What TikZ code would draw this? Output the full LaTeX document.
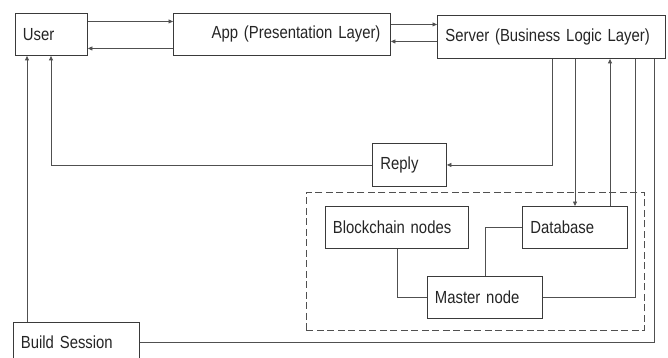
\documentclass[tikz,border=0pt]{standalone}
\usepackage{fontspec}
\setmainfont{Liberation Sans}[FakeStretch=0.85]
\usetikzlibrary{arrows.meta}
\definecolor{edge}{HTML}{505050}
\definecolor{frame}{HTML}{3A3A3A}
\definecolor{ink}{HTML}{252525}
\tikzset{
  box/.style={draw=frame, line width=0.9pt, anchor=north west, align=left,
    inner xsep=7.5pt, inner ysep=0pt, text=ink,
    font=\fontsize{17.5}{20}\selectfont},
  link/.style={draw=edge, line width=0.8pt},
  arr/.style={link, -{Triangle[length=4.5pt,width=4pt]}},
  group/.style={draw=edge, line width=0.9pt, dash pattern=on 7pt off 3.5pt,
    anchor=north west, inner sep=0pt}
}
\begin{document}
\begin{tikzpicture}[x=1pt,y=-1pt]
\clip (0,0) rectangle (668,358);
\fill[white] (0,0) rectangle (668,358);

% dashed storage group
\node[group, minimum width=338pt, minimum height=138pt] (store) at (306,192) {};

% boxes
\node[box, text width=57pt, minimum height=42pt] (user) at (15,13) {User};
\node[box, align=right, inner xsep=10pt, text width=197pt, minimum height=42pt] (app) at (173,13) {App (Presentation Layer)};
\node[box, inner xsep=8pt, text width=212pt, minimum height=43pt] (server) at (437,15) {Server (Business Logic Layer)};
\node[box, inner xsep=8pt, text width=58pt, minimum height=43pt] (reply) at (372,143) {Reply};
\node[box, text width=128pt, minimum height=42pt] (chain) at (325,206) {Blockchain nodes};
\node[box, inner xsep=8pt, text width=89pt, minimum height=42pt] (db) at (522,206) {Database};
\node[box, text width=100pt, minimum height=42pt] (master) at (427,276) {Master node};
\node[box, text width=111pt, minimum height=40pt] (build) at (13,322) {Build Session};

% user <-> app
\draw[arr] ([yshift=13pt]user.east) -- ([yshift=13pt]user.east -| app.west);
\draw[arr] ([yshift=-14pt]user.east -| app.west) -- ([yshift=-14pt]user.east);

% app <-> server
\draw[arr] ([yshift=10pt]app.east) -- ([yshift=10pt]app.east -| server.west);
\draw[arr] ([yshift=-7pt]app.east -| server.west) -- ([yshift=-7pt]app.east);

% server -> reply -> user
\draw[arr] ([xshift=115pt]server.south west) |- (reply.east);
\draw[arr] (reply.west) -| ([xshift=36pt]user.south west);

% server <-> database
\draw[arr] ([xshift=138pt]server.south west) -- ([xshift=138pt]server.south west |- db.north);
\draw[arr] ([xshift=173pt]server.south west |- db.north) -- ([xshift=173pt]server.south west);

% master node and build session up to the server
\draw[link] (master.east) -| ([xshift=198pt]server.south west);
\draw[link] (build.east) -| ([xshift=217pt]server.south west);

% build session -> user
\draw[arr] ([xshift=14pt]build.north west) -- ([xshift=14pt]build.north west |- user.south);

% links inside the group
\draw[link] (chain.south) |- (master.west);
\draw[link] (db.west) -| (master.north);
\end{tikzpicture}
\end{document}
